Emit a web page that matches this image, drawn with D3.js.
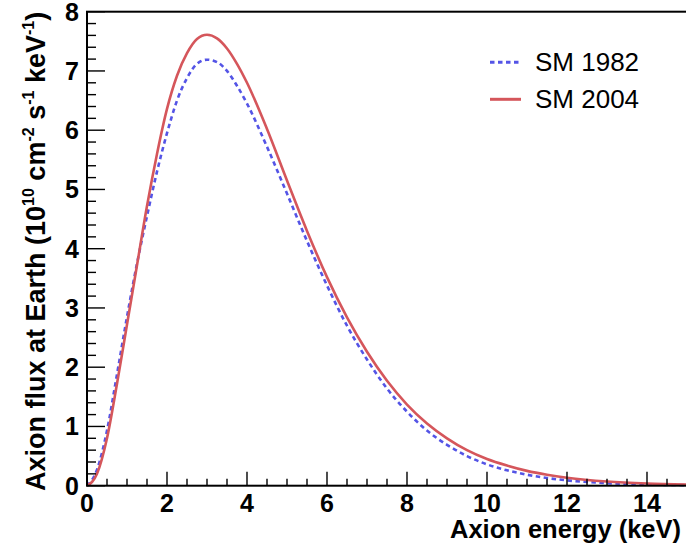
<!DOCTYPE html>
<html>
<head>
<meta charset="utf-8">
<script src="https://cdn.jsdelivr.net/npm/d3@7"></script>
<style>
    body { margin: 0; background: #ffffff; }
    svg { display: block; }
    text { font-family: "Liberation Sans", Arial, sans-serif; }
</style>
</head>
<body>
<div id="axion-flux"></div>
<script>
/////////////////CHART DATA////////////////////////////
// energies in keV, flux in 10^10 cm^-2 s^-1 keV^-1
var energies = [0, 0.25, 0.5, 0.75, 1, 1.25, 1.5, 1.75, 2, 2.25, 2.5, 2.75, 3, 3.25, 3.5,
    3.75, 4, 4.5, 5, 5.5, 6, 6.5, 7, 7.5, 8, 8.5, 9, 9.5, 10, 10.5, 11, 11.5, 12, 13, 14, 15];
var fluxSM1982 = [0, 0.27, 0.93, 1.88, 2.85, 3.75, 4.55, 5.3, 5.95, 6.5, 6.88, 7.12, 7.19, 7.15, 7.0,
    6.75, 6.45, 5.72, 4.93, 4.13, 3.38, 2.7, 2.13, 1.64, 1.25, 0.93, 0.69, 0.5, 0.36, 0.26, 0.185, 0.13, 0.09, 0.043, 0.02, 0.009];
var fluxSM2004 = [0, 0.2, 0.8, 1.72, 2.72, 3.72, 4.72, 5.6, 6.36, 6.92, 7.3, 7.54, 7.61, 7.55, 7.38,
    7.12, 6.8, 6.02, 5.15, 4.3, 3.52, 2.84, 2.26, 1.77, 1.37, 1.05, 0.8, 0.6, 0.45, 0.34, 0.25, 0.185, 0.135, 0.07, 0.036, 0.019];
var seriesNames = ['SM 1982', 'SM 2004'];
var xTicks = [0, 2, 4, 6, 8, 10, 12, 14];
var yTicks = [0, 1, 2, 3, 4, 5, 6, 7, 8];
/////////////////END CHART DATA////////////////////////////

window.axionPlot = (function () {

    var Plot = {};

    Plot.init = function () {
        this._width = 686;
        this._height = 553;
        this._frame = { left: 87, top: 11.7, right: 687, bottom: 485.7 };
        this._styles = [
            { color: '#5454e6', dash: '4.5,3.5', width: 2.6 },
            { color: '#d5565b', dash: null, width: 2.6 }
        ];

        this.createElement();
        this.createScales();
        this.drawCurves();
        this.drawAxes();
        this.drawLegend();
    };

    Plot.createElement = function () {
        this._svg = d3.select('#axion-flux').append('svg')
            .attr('width', this._width)
            .attr('height', this._height);
        this._svg.append('rect')
            .attr('width', this._width)
            .attr('height', this._height)
            .attr('fill', '#ffffff');
    };

    Plot.createScales = function () {
        var f = this._frame;
        this._x = d3.scaleLinear().domain([0, 15]).range([f.left, f.right]);
        this._y = d3.scaleLinear().domain([0, 8]).range([f.bottom, f.top]);
    };

    Plot.drawCurves = function () {
        var self = this;
        var line = d3.line()
            .x(function (d) { return self._x(d[0]); })
            .y(function (d) { return self._y(d[1]); })
            .curve(d3.curveMonotoneX);

        [fluxSM1982, fluxSM2004].forEach(function (series, i) {
            var pts = energies.map(function (e, j) { return [e, series[j]]; });
            var st = self._styles[i];
            self._svg.append('path')
                .datum(pts)
                .attr('d', line)
                .attr('fill', 'none')
                .attr('stroke', st.color)
                .attr('stroke-width', st.width)
                .attr('stroke-dasharray', st.dash);
        });
    };

    Plot.drawAxes = function () {
        var self = this;
        var f = this._frame;
        var g = this._svg.append('g');

        // y axis ticks (5 subdivisions per unit)
        d3.range(0, 8.001, 0.2).forEach(function (v) {
            var major = Math.abs(v - Math.round(v)) < 1e-6;
            g.append('line')
                .attr('x1', f.left).attr('x2', f.left + (major ? 18 : 9))
                .attr('y1', self._y(v)).attr('y2', self._y(v))
                .attr('stroke', '#000').attr('stroke-width', 1.4);
        });
        // x axis ticks (4 subdivisions per 2 keV)
        d3.range(0, 15.001, 0.5).forEach(function (v) {
            var major = Math.abs(v / 2 - Math.round(v / 2)) < 1e-6;
            g.append('line')
                .attr('x1', self._x(v)).attr('x2', self._x(v))
                .attr('y1', f.bottom).attr('y2', f.bottom - (major ? 14 : 7))
                .attr('stroke', '#000').attr('stroke-width', 1.4);
        });

        // frame
        g.append('rect')
            .attr('x', f.left).attr('y', f.top)
            .attr('width', f.right - f.left).attr('height', f.bottom - f.top)
            .attr('fill', 'none').attr('stroke', '#000').attr('stroke-width', 2);

        g.selectAll('.ylab').data(yTicks).enter().append('text')
            .attr('x', 79)
            .attr('y', function (d) { return self._y(d) + 9; })
            .attr('text-anchor', 'end')
            .attr('font-size', 25).attr('font-weight', 'bold')
            .text(function (d) { return d; });

        g.selectAll('.xlab').data(xTicks).enter().append('text')
            .attr('x', function (d) { return self._x(d); })
            .attr('y', 512)
            .attr('text-anchor', 'middle')
            .attr('font-size', 25).attr('font-weight', 'bold')
            .text(function (d) { return d; });

        g.append('text')
            .attr('x', 681).attr('y', 538)
            .attr('text-anchor', 'end')
            .attr('font-size', 25.5).attr('font-weight', 'bold')
            .text('Axion energy (keV)');

        // y title starts at the bottom of the frame and runs upward
        var yt = g.append('text')
            .attr('transform', 'translate(45,491) rotate(-90)')
            .attr('text-anchor', 'start')
            .attr('font-size', 27).attr('font-weight', 'bold');
        var parts = [['Axion flux at Earth (10', null], ['10', 'sup'], [' cm', null], ['-2', 'sup'],
            [' s', null], ['-1', 'sup'], [' keV', null], ['-1', 'sup'], [')', null]];
        var raised = false;
        parts.forEach(function (p) {
            var sup = p[1] === 'sup';
            var dy = sup ? -11 : (raised ? 11 : 0);
            raised = sup;
            yt.append('tspan')
                .attr('font-size', sup ? 16 : 27)
                .attr('dy', dy)
                .text(p[0]);
        });
    };

    Plot.drawLegend = function () {
        var self = this;
        var rows = [62.3, 99.3];
        seriesNames.forEach(function (name, i) {
            var st = self._styles[i];
            self._svg.append('line')
                .attr('x1', 490).attr('x2', 521)
                .attr('y1', rows[i]).attr('y2', rows[i])
                .attr('stroke', st.color).attr('stroke-width', 3)
                .attr('stroke-dasharray', st.dash);
            self._svg.append('text')
                .attr('x', 535).attr('y', rows[i] + 8.5)
                .attr('font-size', 26)
                .text(name);
        });
    };

    return Plot;

})();

axionPlot.init();
</script>
</body>
</html>
